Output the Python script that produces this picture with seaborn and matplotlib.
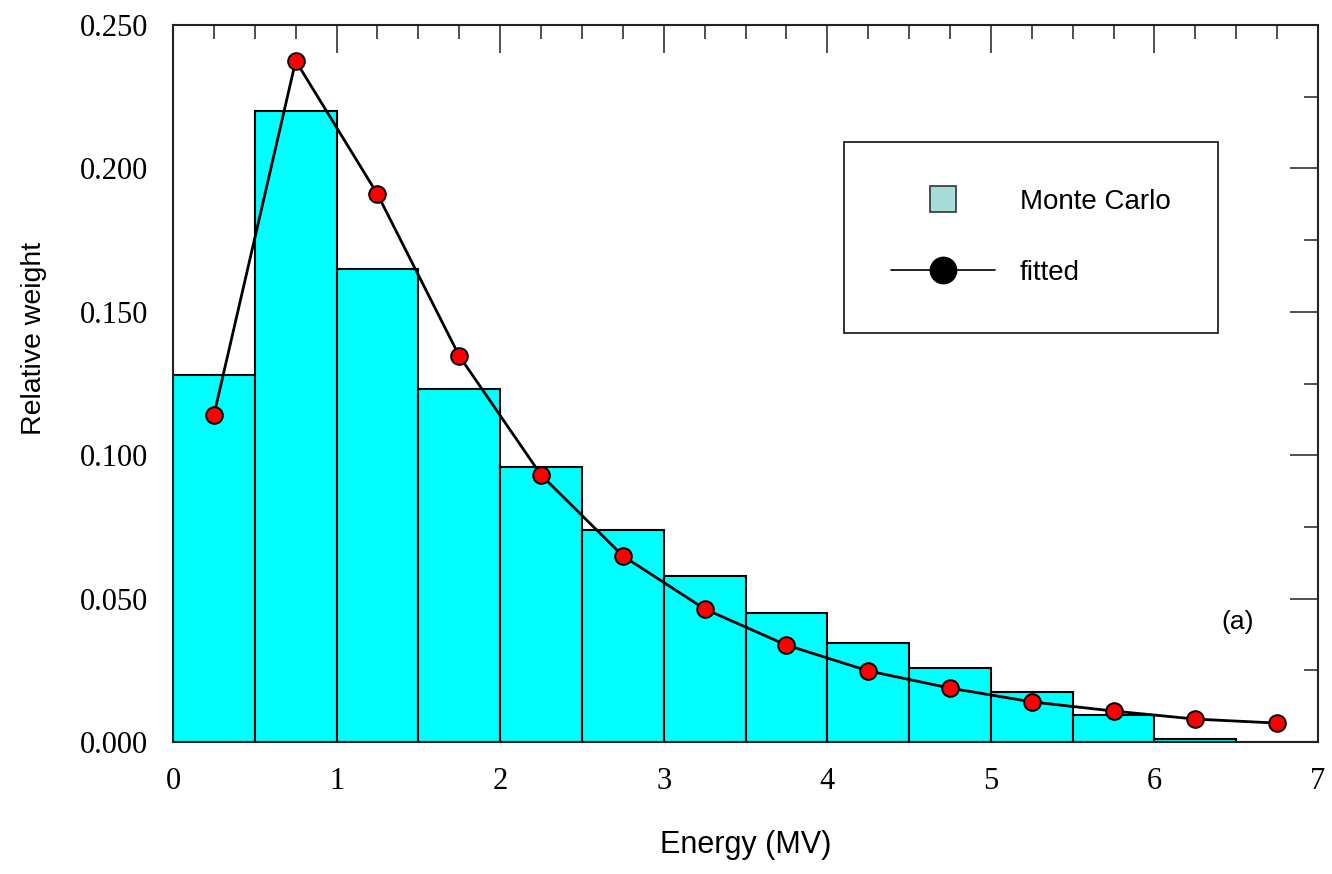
import matplotlib
matplotlib.use("Agg")
import matplotlib.pyplot as plt
from matplotlib.ticker import MultipleLocator, FormatStrFormatter
from matplotlib.lines import Line2D
import seaborn as sns

# Energy bins (MV) and Monte Carlo relative weights per bin
bin_edges = [0.0, 0.5, 1.0, 1.5, 2.0, 2.5, 3.0, 3.5, 4.0, 4.5, 5.0, 5.5, 6.0, 6.5, 7.0]
bin_centers = [0.25, 0.75, 1.25, 1.75, 2.25, 2.75, 3.25, 3.75, 4.25, 4.75, 5.25, 5.75, 6.25, 6.75]
mc_weight = [0.128, 0.220, 0.165, 0.123, 0.096, 0.074, 0.058, 0.045, 0.0345, 0.0258,
             0.0174, 0.0094, 0.001, 0.0]

# Fitted spectrum evaluated at the bin centres
fitted_weight = [0.114, 0.2375, 0.191, 0.1346, 0.0931, 0.0649, 0.0464, 0.0338, 0.0248,
                 0.0188, 0.0140, 0.0108, 0.0080, 0.0066]

x_ticks = [0, 1, 2, 3, 4, 5, 6, 7]
y_ticks = [0.0, 0.05, 0.10, 0.15, 0.20, 0.25]

sns.set_style("white")
plt.rcParams["font.family"] = ["Liberation Sans", "DejaVu Sans"]
plt.rcParams["text.color"] = "black"
plt.rcParams["axes.labelcolor"] = "black"
plt.rcParams["xtick.color"] = "black"
plt.rcParams["ytick.color"] = "black"

fig = plt.figure(figsize=(13.32, 8.74), dpi=100)
ax = fig.add_axes([0.1299, 0.151, 0.8596, 0.8204])

sns.histplot(x=bin_centers, weights=mc_weight, bins=bin_edges, ax=ax,
             color="#00ffff", edgecolor="black", linewidth=1.5, alpha=1.0,
             zorder=3)

sns.lineplot(x=bin_centers, y=fitted_weight, ax=ax, color="black", linewidth=2.0,
             marker="o", markersize=12, markerfacecolor="#ff0000",
             markeredgecolor="black", markeredgewidth=1.4, zorder=4)

ax.set_xlim(0, 7)
ax.set_ylim(0, 0.25)
ax.set_axisbelow(True)

ax.set_xticks(x_ticks)
ax.set_yticks(y_ticks)
ax.xaxis.set_minor_locator(MultipleLocator(0.25))
ax.yaxis.set_minor_locator(MultipleLocator(0.025))
ax.yaxis.set_major_formatter(FormatStrFormatter("%.3f"))

ax.tick_params(which="both", direction="in", top=True, right=True,
               color="#222222", width=1.1)
ax.tick_params(which="major", length=20, pad=18)
ax.tick_params(which="minor", length=10)
for lab in ax.get_xticklabels() + ax.get_yticklabels():
    lab.set_fontfamily("Liberation Serif")
    lab.set_fontsize(22)
    lab.set_color("black")

for sp in ax.spines.values():
    sp.set_visible(True)
    sp.set_color("#222222")
    sp.set_linewidth(1.5)
    sp.set_zorder(5)

ax.set_xlabel("Energy (MV)", fontsize=22, va="center")
ax.set_ylabel("Relative weight", fontsize=20.5, va="center", ha="center")
ax.xaxis.set_label_coords(0.5, -0.1437)
ax.yaxis.set_label_coords(-0.121, 0.563)

ax.text(0.930, 0.167, "(a)", transform=ax.transAxes, fontsize=19,
        ha="center", va="center")

handles = [
    Line2D([], [], linestyle="none", marker="s", markersize=19,
           markerfacecolor="#a8dcd9", markeredgecolor="#333333", markeredgewidth=1.2),
    Line2D([], [], color="black", linewidth=1.2, marker="o", markersize=19,
           markerfacecolor="black", markeredgecolor="black"),
]
leg = ax.legend(handles, ["Monte Carlo", "fitted"], loc="upper left",
                bbox_to_anchor=(0.586, 0.837), fontsize=20, frameon=True,
                fancybox=False, shadow=False, framealpha=1.0, edgecolor="#222222",
                borderpad=1.7, labelspacing=1.62, handlelength=3.74,
                handletextpad=0.9, borderaxespad=0.0)
leg.get_frame().set_linewidth(1.3)

fig.savefig("out.png", dpi=100)
